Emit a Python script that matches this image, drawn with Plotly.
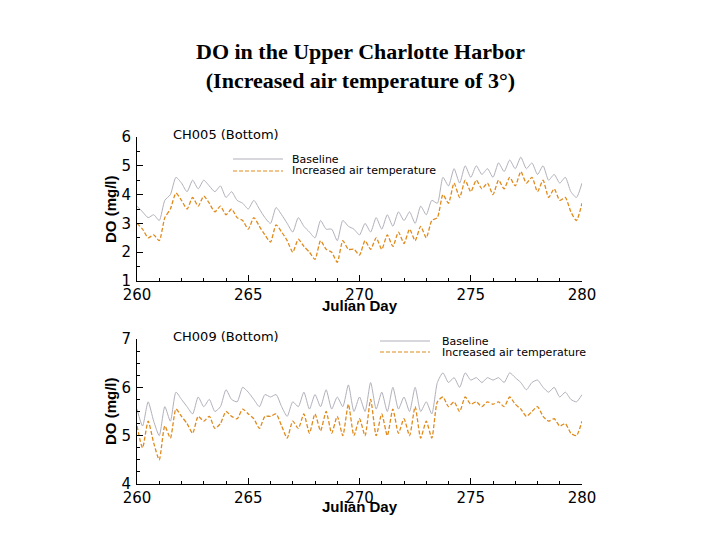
import plotly.graph_objects as go

# ---------------- data ----------------
days = [260 + 0.25 * i for i in range(81)]

ch005_baseline = [
    3.6, 3.4, 3.2, 3.3, 3.1, 3.8, 4.0, 4.6, 4.4, 4.1, 4.5, 4.2, 4.5, 4.3, 4.1, 4.3,
    3.9, 4.1, 3.8, 3.7, 3.5, 3.8, 3.5, 3.2, 3.0, 3.55, 3.3, 3.0, 2.7, 3.2, 2.9, 2.7,
    2.5, 3.1, 2.8, 2.8, 2.4, 3.1, 2.9, 2.8, 2.6, 3.0, 2.7, 3.2, 2.8, 3.3, 2.9, 3.4,
    3.1, 3.4, 3.0, 3.6, 3.3, 3.8, 3.7, 4.6, 4.3, 4.9, 4.4, 5.0, 4.6, 5.0, 4.7, 4.9,
    4.6, 5.1, 4.8, 5.2, 4.9, 5.3, 4.9, 5.1, 4.7, 5.0, 4.5, 4.7, 4.4, 4.6, 4.1, 3.9,
    4.4,
]
ch005_increased = [
    3.0, 2.8, 2.5, 2.6, 2.4, 3.2, 3.5, 4.05, 3.8, 3.5, 3.9, 3.6, 3.95, 3.7, 3.4, 3.6,
    3.3, 3.5, 3.2, 3.1, 2.8, 3.2, 2.9, 2.6, 2.35, 2.95, 2.7, 2.4, 2.0, 2.45, 2.2, 2.0,
    1.75, 2.4, 2.1, 2.0, 1.65, 2.4, 2.1, 2.1, 1.9, 2.4, 2.1, 2.5, 2.1, 2.6, 2.2, 2.7,
    2.3, 2.8, 2.4, 2.9, 2.5, 3.1, 3.2, 4.0, 3.7, 4.4, 3.9, 4.5, 4.1, 4.5, 4.2, 4.4,
    4.0, 4.5, 4.2, 4.6, 4.3, 4.8, 4.4, 4.6, 4.1, 4.5, 3.9, 4.2, 3.8, 3.9, 3.4, 3.1,
    3.7,
]
ch009_baseline = [
    5.55, 5.2, 5.7, 5.3, 5.0, 5.6, 5.3, 5.9, 5.75, 5.6, 5.45, 5.8, 5.6, 5.75, 5.5, 5.6,
    5.95, 5.75, 5.7, 6.0, 5.9, 5.75, 5.6, 5.85, 5.8, 5.85, 5.6, 5.4, 5.7, 5.6, 5.9, 5.55,
    5.85, 5.6, 5.95, 5.55, 5.8, 5.6, 6.05, 5.5, 5.8, 5.5, 6.1, 5.55, 5.9, 5.5, 6.0, 5.55,
    5.8, 5.5, 6.0, 5.5, 5.7, 5.45, 6.1, 6.3, 6.1, 6.2, 6.0, 6.3, 6.15, 6.2, 6.1, 6.2,
    6.15, 6.2, 6.1, 6.3, 6.2, 6.1, 5.95, 6.1, 6.15, 6.0, 5.9, 6.0, 5.8, 5.9, 5.75, 5.7,
    5.85,
]
ch009_increased = [
    5.2, 4.75, 5.3, 4.85, 4.5, 5.2, 4.95, 5.55, 5.4, 5.25, 5.05, 5.4, 5.3, 5.4, 5.15, 5.25,
    5.5, 5.4, 5.35, 5.55, 5.45, 5.35, 5.15, 5.4, 5.4, 5.45, 5.2, 4.95, 5.3, 5.15, 5.45, 5.05,
    5.45, 5.1, 5.5, 5.05, 5.4, 5.0, 5.65, 5.0, 5.35, 5.0, 5.75, 5.0, 5.45, 5.0, 5.55, 5.05,
    5.35, 5.0, 5.6, 4.95, 5.3, 4.95, 5.7, 5.8, 5.6, 5.7, 5.5, 5.8, 5.65, 5.7, 5.6, 5.7,
    5.65, 5.7, 5.6, 5.8, 5.65, 5.55, 5.4, 5.5, 5.6, 5.4, 5.3, 5.35, 5.2, 5.25, 5.05, 5.0,
    5.3,
]

x_ticks = [260, 265, 270, 275, 280]
station_titles = ["CH005 (Bottom)", "CH009 (Bottom)"]
series_names = ["Baseline", "Increased air temperature"]

BASE_COLOR = "#b0b0bb"
INC_COLOR = "#e08a1c"
SANS = "DejaVu Sans, Liberation Sans, Arial"

W, H = 720, 540
OFF = 8  # page body margin offset (px)


def px_x(p):
    return (p - OFF) / W


def px_y(p):
    return 1 - (p - OFF) / H


# ---------------- figure ----------------
fig = go.Figure()

for xa, ya, base, inc in [("x", "y", ch005_baseline, ch005_increased),
                          ("x2", "y2", ch009_baseline, ch009_increased)]:
    fig.add_trace(go.Scatter(x=days, y=base, mode="lines", name=series_names[0],
                             line=dict(color=BASE_COLOR, width=1, shape="spline", smoothing=0.6),
                             xaxis=xa, yaxis=ya))
    fig.add_trace(go.Scatter(x=days, y=inc, mode="lines", name=series_names[1],
                             line=dict(color=INC_COLOR, width=1.3, dash="4px,2px",
                                       shape="spline", smoothing=0.6),
                             xaxis=xa, yaxis=ya))

xd = [px_x(137), px_x(582)]
y1d = [px_y(281), px_y(137)]
y2d = [px_y(484), px_y(339)]

axis_common = dict(
    showline=True, linecolor="black", linewidth=1, showgrid=False, zeroline=False,
    ticks="inside", ticklen=6, tickcolor="black", tickwidth=1, automargin=False,
    tickfont=dict(family=SANS, size=15, color="black"),
)

fig.update_layout(
    width=W, height=H, showlegend=False,
    paper_bgcolor="white", plot_bgcolor="white",
    margin=dict(l=0, r=0, t=0, b=0, pad=0, autoexpand=False),
    xaxis=dict(domain=xd, anchor="y", range=[260, 280], tickvals=x_ticks, ticklabelstandoff=0,
               minor=dict(dtick=1, ticks="inside", ticklen=3, tickcolor="black"), **axis_common),
    yaxis=dict(domain=y1d, anchor="x", range=[1, 6], dtick=1, ticklabelstandoff=2,
               minor=dict(dtick=0.5, ticks="inside", ticklen=3, tickcolor="black"), **axis_common),
    xaxis2=dict(domain=xd, anchor="y2", range=[260, 280], tickvals=x_ticks, ticklabelstandoff=0,
                minor=dict(dtick=1, ticks="inside", ticklen=3, tickcolor="black"), **axis_common),
    yaxis2=dict(domain=y2d, anchor="x2", range=[4, 7], dtick=1, ticklabelstandoff=2,
                minor=dict(dtick=0.25, ticks="inside", ticklen=3, tickcolor="black"), **axis_common),
)

ann = []
# main title
ann.append(dict(text="<b>DO in the Upper Charlotte Harbor<br>(Increased air temperature of 3°)</b>",
                x=px_x(360), y=px_y(66), xref="paper", yref="paper", showarrow=False,
                font=dict(family="Liberation Serif, Times New Roman", size=22, color="black"),
                xanchor="center", yanchor="middle"))
# station labels
for title, ypx in zip(station_titles, [134, 336]):
    ann.append(dict(text=title, x=px_x(171), y=px_y(ypx), xref="paper", yref="paper",
                    showarrow=False, xanchor="left", yanchor="middle",
                    font=dict(family=SANS, size=13, color="black")))
# axis titles
for ypx in [305, 506]:
    ann.append(dict(text="<b>Julian Day</b>", x=px_x((137 + 582) / 2), y=px_y(ypx),
                    xref="paper", yref="paper", showarrow=False, xanchor="center", yanchor="middle",
                    font=dict(family="Liberation Sans, Arial", size=15, color="black")))
for ypx in [209, 411]:
    ann.append(dict(text="<b>DO (mg/l)</b>", x=px_x(110), y=px_y(ypx), textangle=-90,
                    xref="paper", yref="paper", showarrow=False, xanchor="center", yanchor="middle",
                    font=dict(family="Liberation Sans, Arial", size=15, color="black")))

# manual legends
shapes = []
legend_specs = [(233, 283, 290, [159, 171]), (380, 430, 440, [341, 352])]
for x0, x1, xt, ys in legend_specs:
    for name, ypx, col, dash in zip(series_names, ys, [BASE_COLOR, INC_COLOR], ["solid", "4px,2px"]):
        shapes.append(dict(type="line", xref="paper", yref="paper", x0=px_x(x0), x1=px_x(x1),
                           y0=px_y(ypx), y1=px_y(ypx),
                           line=dict(color=col, width=1.2, dash=dash)))
        ann.append(dict(text=name, x=px_x(xt), y=px_y(ypx), xref="paper", yref="paper",
                        showarrow=False, xanchor="left", yanchor="middle",
                        font=dict(family=SANS, size=11, color="black")))

fig.update_layout(annotations=ann, shapes=shapes)
fig.write_html("out.html")
